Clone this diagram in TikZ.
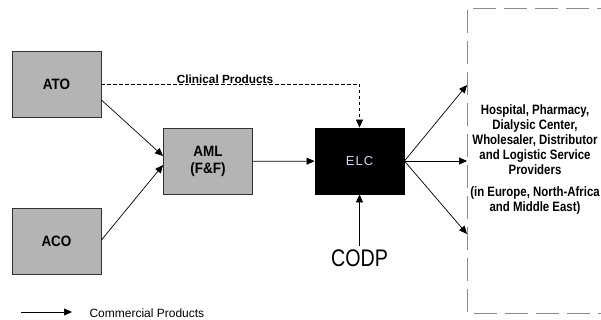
\documentclass[tikz,border=0pt]{standalone}
\usepackage{fontspec}
\setmainfont{Liberation Sans}
\usetikzlibrary{arrows.meta}
\definecolor{boxgray}{HTML}{B4B4B4}
\definecolor{elctext}{HTML}{D8D0F0}
\definecolor{dashgray}{HTML}{8C8C8C}
\begin{document}
\begin{tikzpicture}[x=1pt,y=-1pt,
  unit/.style={draw=black!80, line width=0.9pt, fill=boxgray, minimum width=89pt,
    minimum height=66pt, inner sep=0pt, align=center,
    font=\fontsize{15}{16.5}\selectfont\bfseries\addfontfeature{FakeStretch=0.9}},
  flow/.style={line width=0.7pt, -{Triangle[length=8pt,width=7pt]}},
  clinical/.style={flow, dash pattern=on 3.5pt off 2.5pt}]
  \useasboundingbox (0,0) rectangle (601,320);
  % production and filling sites
  \node[unit] (ato) at (56.5,84) {ATO};
  \node[unit] (aco) at (56.5,241) {ACO};
  \node[unit] (aml) at (208,161.5) {AML\\(F\&F)};
  % European logistics centre
  \node[unit, fill=black, draw=black, font=\fontsize{13}{15}\selectfont\addfontfeature{LetterSpace=8}, text=elctext] (elc) at (359.5,161) {ELC};
  % customers region
  \draw[dashgray, line width=0.8pt, dash pattern=on 23pt off 8pt] (620,8) -- (467,8) -- (467,313) -- (620,313);
  \node[align=center, inner sep=0pt, font=\fontsize{13.6}{15}\selectfont\bfseries\addfontfeature{FakeStretch=0.84}] (cust) at (535,159)
    {Hospital, Pharmacy,\\Dialysic Center,\\Wholesaler, Distributor\\and Logistic Service\\Providers\\[7pt](in Europe, North-Africa\\and Middle East)};
  \coordinate (t1) at (467,85);
  \coordinate (t2) at (467,161);
  \coordinate (t3) at (467,234);
  % commercial flows
  \draw[flow] (ato.east |- 0,100) -- (aml.west |- 0,156);
  \draw[flow] (aco.east |- 0,240) -- (aml.west |- 0,165);
  \draw[flow] (aml) -- (elc);
  \draw[flow] (elc.east) -- (t1);
  \draw[flow] (elc.east) -- (t2);
  \draw[flow] (elc.east) -- (t3);
  % clinical flow
  \draw[clinical] (ato.east) -- (359.5,84) -- (elc.north);
  \node[font=\fontsize{11.8}{13}\selectfont\bfseries, anchor=south] (clin) at (225,87.5) {Clinical Products};
  % customer order decoupling point
  \node[font=\fontsize{24}{26}\selectfont\addfontfeature{FakeStretch=0.82}] (codp) at (359.5,258) {CODP};
  \draw[flow] (codp.north) -- (elc.south);
  % legend
  \coordinate (l1) at (21,312);
  \coordinate (l2) at (72,312);
  \draw[flow] (l1) -- (l2);
  \node[font=\fontsize{12}{14}\selectfont, anchor=west] (leg) at (86,313) {Commercial Products};
\end{tikzpicture}
\end{document}
